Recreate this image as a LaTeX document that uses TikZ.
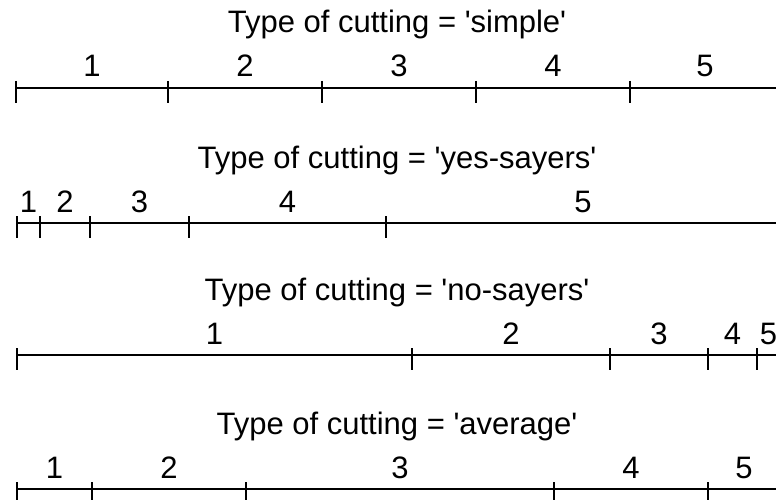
\documentclass[tikz,border=0pt]{standalone}
\usepackage{fontspec}
\setmainfont{Liberation Sans}
\usetikzlibrary{positioning,calc}

\begin{document}
\begin{tikzpicture}[x=1pt,y=-1pt,
    every node/.style={font=\fontsize{31}{36}\selectfont,inner sep=0pt,anchor=base},
    scaleline/.style={line width=2.7pt},
    scaletick/.style={line width=2.7pt}]
    \useasboundingbox (0,0) rectangle (776,500);
    \clip (0,0) rectangle (776,500);
    % One scale per type of cutting: row/line height/type/tick positions (last = line end)
    \foreach \r/\L/\typ/\ticks in {1/88/simple/{16,168,322,476,630,780},
                                  2/223/yes-sayers/{17,40,90,189,386,780},
                                  3/355/no-sayers/{17,412,610,708,757,780},
                                  4/489/average/{17,92,246,554,708,780}}{
      \node (title\r) at (397,\L-55) {Type of cutting = \textquotesingle\typ\textquotesingle};
      \foreach \t [count=\k] in \ticks {
        \coordinate (t\r-\k) at (\t,\L);
      }
      \draw[scaleline] (t\r-1) -- (t\r-6);
      % Ticks and class labels
      \foreach \k in {1,...,5}{
        \pgfmathtruncatemacro\kk{\k+1}
        \draw[scaletick] ($(t\r-\k)+(0,-7)$) -- ($(t\r-\k)+(0,15)$);
        \node (lab\r-\k) at ($(t\r-\k)!0.5!(t\r-\kk)+(0,-11)$) {\k};
      }
    }
\end{tikzpicture}
\end{document}
